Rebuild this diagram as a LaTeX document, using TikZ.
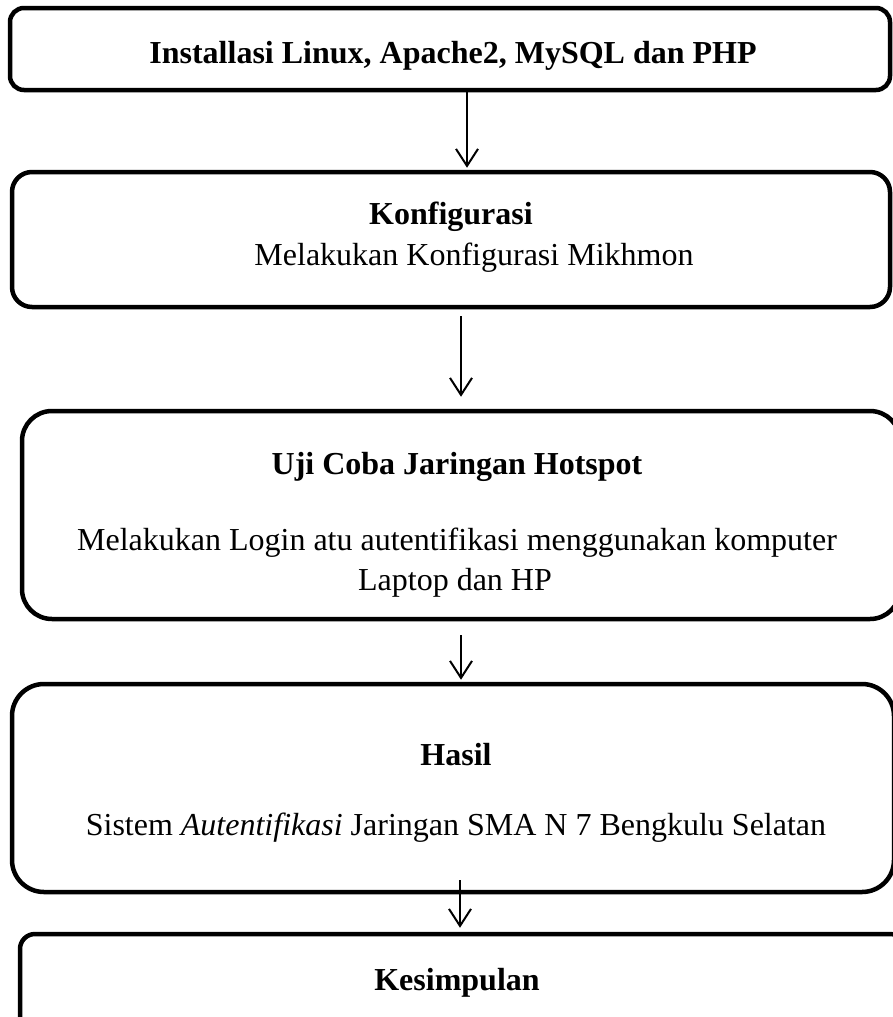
\documentclass[tikz,border=0pt]{standalone}
\usepackage{fontspec}
\setmainfont{Liberation Serif}
\usetikzlibrary{arrows.meta}
\tikzset{
	box/.style={draw, line width=4.5pt, rounded corners=#1, inner sep=0pt},
	box/.default=15pt,
	flow/.style={line width=2pt, -{Straight Barb[length=17pt, width=22pt, line width=2pt]}},
	txt/.style={anchor=base, inner sep=0pt, font=\fontsize{32}{38}\selectfont},
}

\begin{document}
\begin{tikzpicture}[x=1pt, y=-1pt]
		\useasboundingbox (0,0) rectangle (893,1017);
		\clip (0,0) rectangle (893,1017);
		% boxes
		\node[box=14pt, minimum width=880pt, minimum height=82pt] (inst) at (450,49) {};
		\node[box=20pt, minimum width=878pt, minimum height=135pt] (konf) at (451,239.5) {};
		\node[box=30pt, minimum width=878pt, minimum height=208pt] (uji) at (461,515) {};
		\node[box=32pt, minimum width=882pt, minimum height=208pt] (hasil) at (453,788) {};
		\node[box=15pt, minimum width=885pt, minimum height=106pt] (kes) at (462.5,987) {};
		% texts
		\node[txt] (inst-t) at (453,63) {\textbf{Installasi Linux, Apache2, MySQL dan PHP}};
		\node[txt] (konf-t) at (451,224) {\textbf{Konfigurasi}};
		\node[txt] (konf-d) at (474,265) {Melakukan Konfigurasi Mikhmon};
		\node[txt] (uji-t) at (457,474) {\textbf{Uji Coba Jaringan Hotspot}};
		\node[txt] (uji-d1) at (457,550) {Melakukan Login atu autentifikasi menggunakan komputer};
		\node[txt] (uji-d2) at (455,590) {Laptop dan HP};
		\node[txt] (hasil-t) at (456,765) {\textbf{Hasil}};
		\node[txt] (hasil-d) at (456,835) {Sistem \textit{Autentifikasi} Jaringan SMA N 7 Bengkulu Selatan};
		\node[txt] (kes-t) at (457,990) {\textbf{Kesimpulan}};
		% arrows
		\draw[flow, shorten >=2pt] ([xshift=17pt]inst.south) coordinate (a1) -- (a1 |- konf.north);
		\draw[flow, shorten <=7pt, shorten >=12pt] ([xshift=10pt]konf.south) coordinate (a2) -- (a2 |- uji.north);
		\draw[flow, shorten <=14pt, shorten >=2pt] (uji.south) coordinate (a3) -- (a3 |- hasil.north);
		\draw[flow, shorten <=-14pt, shorten >=4pt] ([xshift=7pt]hasil.south) coordinate (a4) -- (a4 |- kes.north);
	\end{tikzpicture}
\end{document}
